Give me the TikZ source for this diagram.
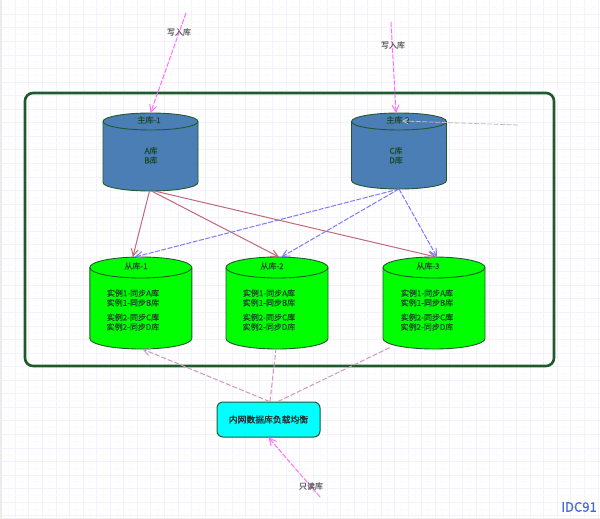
\documentclass[tikz,border=0pt]{standalone}
\usepackage{fontspec}
\setmainfont{Noto Sans CJK SC}
\newfontfamily\heavy[FakeBold=0.6]{Noto Sans CJK SC}
\usetikzlibrary{arrows.meta}
\definecolor{frameg}{HTML}{1F5A2E}
\definecolor{txtg}{HTML}{1A4A25}
\definecolor{bluefill}{HTML}{4A7EB5}
\definecolor{gridc}{HTML}{F3F1FC}
\definecolor{gridm}{HTML}{FBFAFE}
\definecolor{redl}{HTML}{BF6A78}
\definecolor{bluel}{HTML}{7C7CFA}
\definecolor{pinkl}{HTML}{D09AB4}
\definecolor{magl}{HTML}{FF70FF}
\definecolor{cyanf}{HTML}{00FFFF}
\definecolor{greenf}{HTML}{00FF00}
\definecolor{logoc}{HTML}{4468D8}
\tikzset{
  dbbody/.style={draw=frameg,line width=0.9pt},
  dbanchor/.style={inner sep=0pt,outer sep=0pt},
  dbtxt/.style={text=txtg,inner sep=0pt,align=center,font=\heavy\fontsize{8}{9.5}\selectfont},
  sltxt/.style={text=txtg,inner sep=0pt,align=center,font=\heavy\fontsize{8}{9.6}\selectfont},
  lbl/.style={text=black!62,inner sep=0pt,font=\heavy\fontsize{8}{9.5}\selectfont},
  tip/.style={-{Straight Barb[length=7pt,width=7pt]}},
  redc/.style={tip,draw=redl,line width=1pt},
  bluec/.style={tip,draw=bluel,line width=1pt,dash pattern=on 5pt off 1.5pt},
  pinkc/.style={draw=pinkl,line width=1pt,dash pattern=on 5pt off 2pt},
  magc/.style={tip,draw=magl,line width=1pt,dash pattern=on 5pt off 1.5pt},
  grayc/.style={-{Straight Barb[length=5pt,width=5pt]},draw=black!25,line width=0.8pt,dash pattern=on 5pt off 1.5pt},
}
% #1 name, #2 cx, #3 top y, #4 bottom y, #5 rx, #6 ry, #7 fill
\newcommand{\dbcyl}[7]{%
  \path[dbbody,fill=#7] (#2-#5,#3+#6) arc[start angle=180,end angle=0,x radius=#5,y radius=-#6]
     -- (#2+#5,#4-#6) arc[start angle=0,end angle=-180,x radius=#5,y radius=-#6] -- cycle;
  \draw[dbbody] (#2-#5,#3+#6) arc[start angle=180,end angle=360,x radius=#5,y radius=-#6];
  \node[dbanchor,minimum width=2*#5 pt,minimum height=#4 pt-#3 pt] (#1) at (#2,{(#3+#4)/2}) {};
}
\begin{document}
\begin{tikzpicture}[x=1pt,y=-1pt]
\useasboundingbox (0,0) rectangle (600,519);
\fill[white] (0,0) rectangle (600,519);
\foreach \i in {0,...,44} {
  \draw[gridm,line width=0.6pt] ({8.5+13.55*\i},0) -- ({8.5+13.55*\i},519);
  \draw[gridc,line width=0.8pt] ({15.3+13.55*\i},0) -- ({15.3+13.55*\i},519);
}
\foreach \i in {0,...,38} {
  \draw[gridm,line width=0.6pt] (0,{7.5+13.55*\i}) -- (600,{7.5+13.55*\i});
  \draw[gridc,line width=0.8pt] (0,{14.3+13.55*\i}) -- (600,{14.3+13.55*\i});
}
\fill[black!8] (0,0) rectangle (1.5,519);
\fill[black!6] (0,517.5) rectangle (600,519);

\node[draw=frameg,line width=2.6pt,rounded corners=8pt,minimum width=529pt,minimum height=273pt,inner sep=0pt] (frame) at (289.5,229.5) {};

\dbcyl{m1}{150.5}{113}{191}{47.5}{8.5}{bluefill}
\dbcyl{m2}{399}{113}{189}{47.5}{8.5}{bluefill}
\dbcyl{s1}{140.8}{257}{349}{51}{10.5}{greenf}
\dbcyl{s2}{277}{257}{349}{51}{10.5}{greenf}
\dbcyl{s3}{434}{257}{349}{51}{10.5}{greenf}
\node[draw=frameg,line width=1pt,fill=cyanf,rounded corners=6pt,minimum width=103pt,minimum height=35pt,inner sep=0pt,text=black!85,font=\heavy\fontsize{8.8}{10}\selectfont] (lb) at (268.5,419.5) {内网数据库负载均衡};

\node[dbtxt] (m1t) at (149,120) {主库-1};
\node[dbtxt] (m1b) at (151,155.5) {A库\\B库};
\node[dbtxt] (m2t) at (398,120) {主库-2};
\node[dbtxt] (m2b) at (396,155.5) {C库\\D库};
\node[dbtxt] (s1t) at (136,266) {从库-1};
\node[dbtxt] (s2t) at (272,266) {从库-2};
\node[dbtxt] (s3t) at (428,266) {从库-3};
\node[sltxt] (s1b) at (133,310) {实例1-同步A库\\实例1-同步B库\\[5pt]实例2-同步C库\\实例2-同步D库};
\node[sltxt] (s2b) at (269,310) {实例1-同步A库\\实例1-同步B库\\[5pt]实例2-同步C库\\实例2-同步D库};
\node[sltxt] (s3b) at (427,310) {实例1-同步A库\\实例1-同步B库\\[5pt]实例2-同步C库\\实例2-同步D库};

\coordinate (w1) at (186,13);
\coordinate (w2) at (391,22);
\coordinate (gr) at (518,125);
\coordinate (rd) at (320,497);
\coordinate (m2g) at (402,121);

\draw[redc] ([xshift=-1pt]m1.south) -- ([xshift=-8pt]s1.north);
\draw[redc] ([xshift=1pt]m1.south) -- ([xshift=2pt]s2.north);
\draw[redc] ([xshift=4pt]m1.south) -- ([xshift=2pt]s3.north);
\draw[bluec] (m2.south) -- ([xshift=-6pt]s1.north);
\draw[bluec] (m2.south) -- ([xshift=4.5pt]s2.north);
\draw[bluec] (m2.south) -- ([xshift=3pt]s3.north);
\draw[magc] (w1) -- (m1.north);
\draw[magc] (w2) -- ([xshift=-3pt]m2.north);
\draw[grayc] (gr) -- (m2g);
\draw[pinkc,tip] ([xshift=1pt]lb.north) -- ([xshift=1.5pt]s1.south);
\draw[pinkc] ([xshift=1.5pt]lb.north) -- ([xshift=-1pt]s2.south);
\draw[pinkc] ([xshift=9.5pt]lb.north) -- ([xshift=-43pt,yshift=2pt]s3.south);
\draw[magc] (rd) -- (lb.south);

\node[lbl] (l1) at (179,32) {写入库};
\node[lbl] (l2) at (393,45) {写入库};
\node[lbl] (l3) at (311,486) {只读库};
\node[inner sep=0pt,text=logoc,font=\heavy\fontsize{13}{14}\selectfont] (logo) at (579,507) {IDC91};
\end{tikzpicture}
\end{document}
